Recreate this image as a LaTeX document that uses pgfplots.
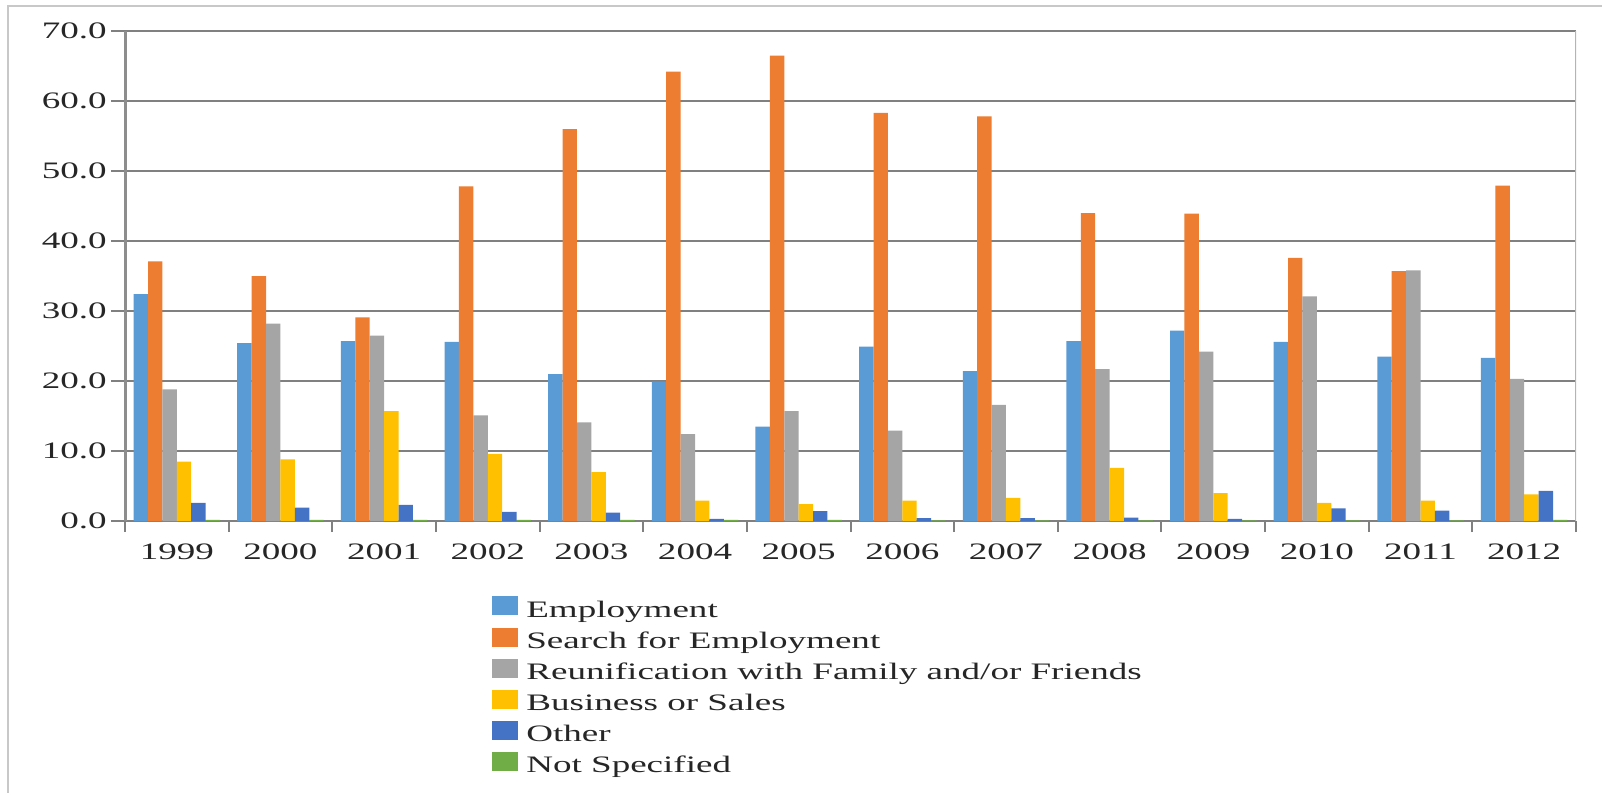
\documentclass[border=0pt]{standalone}
\usepackage{fontspec}
\setmainfont{Liberation Serif}[FakeStretch=1.57]
\usepackage{pgfplots}
\pgfplotsset{compat=1.18}

\definecolor{cEmp}{HTML}{5B9BD5}
\definecolor{cSearch}{HTML}{ED7D31}
\definecolor{cReun}{HTML}{A5A5A5}
\definecolor{cBus}{HTML}{FFC000}
\definecolor{cOther}{HTML}{4472C4}
\definecolor{cNS}{HTML}{70AD47}
\definecolor{gridc}{HTML}{808080}
\definecolor{framec}{HTML}{C8C8C8}

\newcommand{\chartfont}{\fontsize{11.8}{13}\selectfont}

\begin{document}
\begin{tikzpicture}
  \useasboundingbox (0,0) rectangle (801pt,-396.5pt);
  % outer chart frame (top and left edges visible)
  \draw[framec, line width=1pt] (801pt,-3pt) -- (4pt,-3pt) -- (4pt,-396.5pt);

  \begin{axis}[
      at={(62.5pt,-260.5pt)}, anchor=south west,
      scale only axis,
      width=725.5pt, height=245pt,
      ybar=0pt, bar width=0.139,
      xmin=-0.5, xmax=13.5,
      ymin=0, ymax=70,
      axis x line*=bottom, axis y line*=left,
      x axis line style={gridc, line width=1pt, -},
      y axis line style={gridc!90, line width=1.5pt, -},
      xtick={0,...,13},
      xticklabels={1999,2000,2001,2002,2003,2004,2005,2006,2007,2008,2009,2010,2011,2012},
      major x tick style={draw=none},
      minor xtick={-0.5,0.5,...,13.5},
      minor x tick style={gridc, line width=1pt},
      minor tick length=5.5pt,
      ytick={0,10,...,70},
      yticklabels={0.0,10.0,20.0,30.0,40.0,50.0,60.0,70.0},
      major y tick style={gridc, line width=1pt},
      major tick length=7pt,
      tick align=outside,
      ymajorgrids=true,
      grid style={gridc, line width=1pt},
      ticklabel style={font=\chartfont, text=black!85},
      yticklabel style={inner sep=0pt, xshift=-2pt},
      xticklabel style={inner sep=0pt, anchor=base, yshift=-12pt},
      legend style={
        at={(0.2529,-0.1531)}, anchor=north west,
        draw=none, fill=none, inner sep=0pt,
        font=\chartfont, text=black!85,
        row sep=0pt, column sep=4pt,
        nodes={inner sep=0pt, text height=9pt, text depth=5.1pt},
      },
      legend cell align=left,
      legend image code/.code={
        \fill[#1, draw=none] (0pt,-1pt) rectangle (13pt,8.5pt);
      },
      every axis plot/.append style={draw=none},
    ]
    \addplot[fill=cEmp] coordinates {
      (0,32.4) (1,25.4) (2,25.7) (3,25.6) (4,21.0) (5,19.9) (6,13.5)
      (7,24.9) (8,21.4) (9,25.7) (10,27.2) (11,25.6) (12,23.5) (13,23.3)};
    \addplot[fill=cSearch] coordinates {
      (0,37.1) (1,35.0) (2,29.1) (3,47.8) (4,56.0) (5,64.2) (6,66.5)
      (7,58.3) (8,57.8) (9,44.0) (10,43.9) (11,37.6) (12,35.7) (13,47.9)};
    \addplot[fill=cReun] coordinates {
      (0,18.8) (1,28.2) (2,26.5) (3,15.1) (4,14.1) (5,12.4) (6,15.7)
      (7,12.9) (8,16.6) (9,21.7) (10,24.2) (11,32.1) (12,35.8) (13,20.3)};
    \addplot[fill=cBus] coordinates {
      (0,8.5) (1,8.8) (2,15.7) (3,9.6) (4,7.0) (5,2.9) (6,2.4)
      (7,2.9) (8,3.3) (9,7.6) (10,4.0) (11,2.6) (12,2.9) (13,3.8)};
    \addplot[fill=cOther] coordinates {
      (0,2.6) (1,1.9) (2,2.3) (3,1.3) (4,1.2) (5,0.3) (6,1.4)
      (7,0.4) (8,0.4) (9,0.5) (10,0.3) (11,1.8) (12,1.5) (13,4.3)};
    \addplot[fill=cNS] coordinates {
      (0,0.15) (1,0.15) (2,0.15) (3,0.15) (4,0.15) (5,0.15) (6,0.15)
      (7,0.1) (8,0.1) (9,0.1) (10,0.1) (11,0.1) (12,0.1) (13,0.15)};
    \legend{Employment, Search for Employment, Reunification with Family and/or Friends, Business or Sales, Other, Not Specified}
    % right edge of the plot area
    \draw[framec!90!black, line width=1pt] (rel axis cs:1,0) -- (rel axis cs:1,1);
  \end{axis}
\end{tikzpicture}
\end{document}
